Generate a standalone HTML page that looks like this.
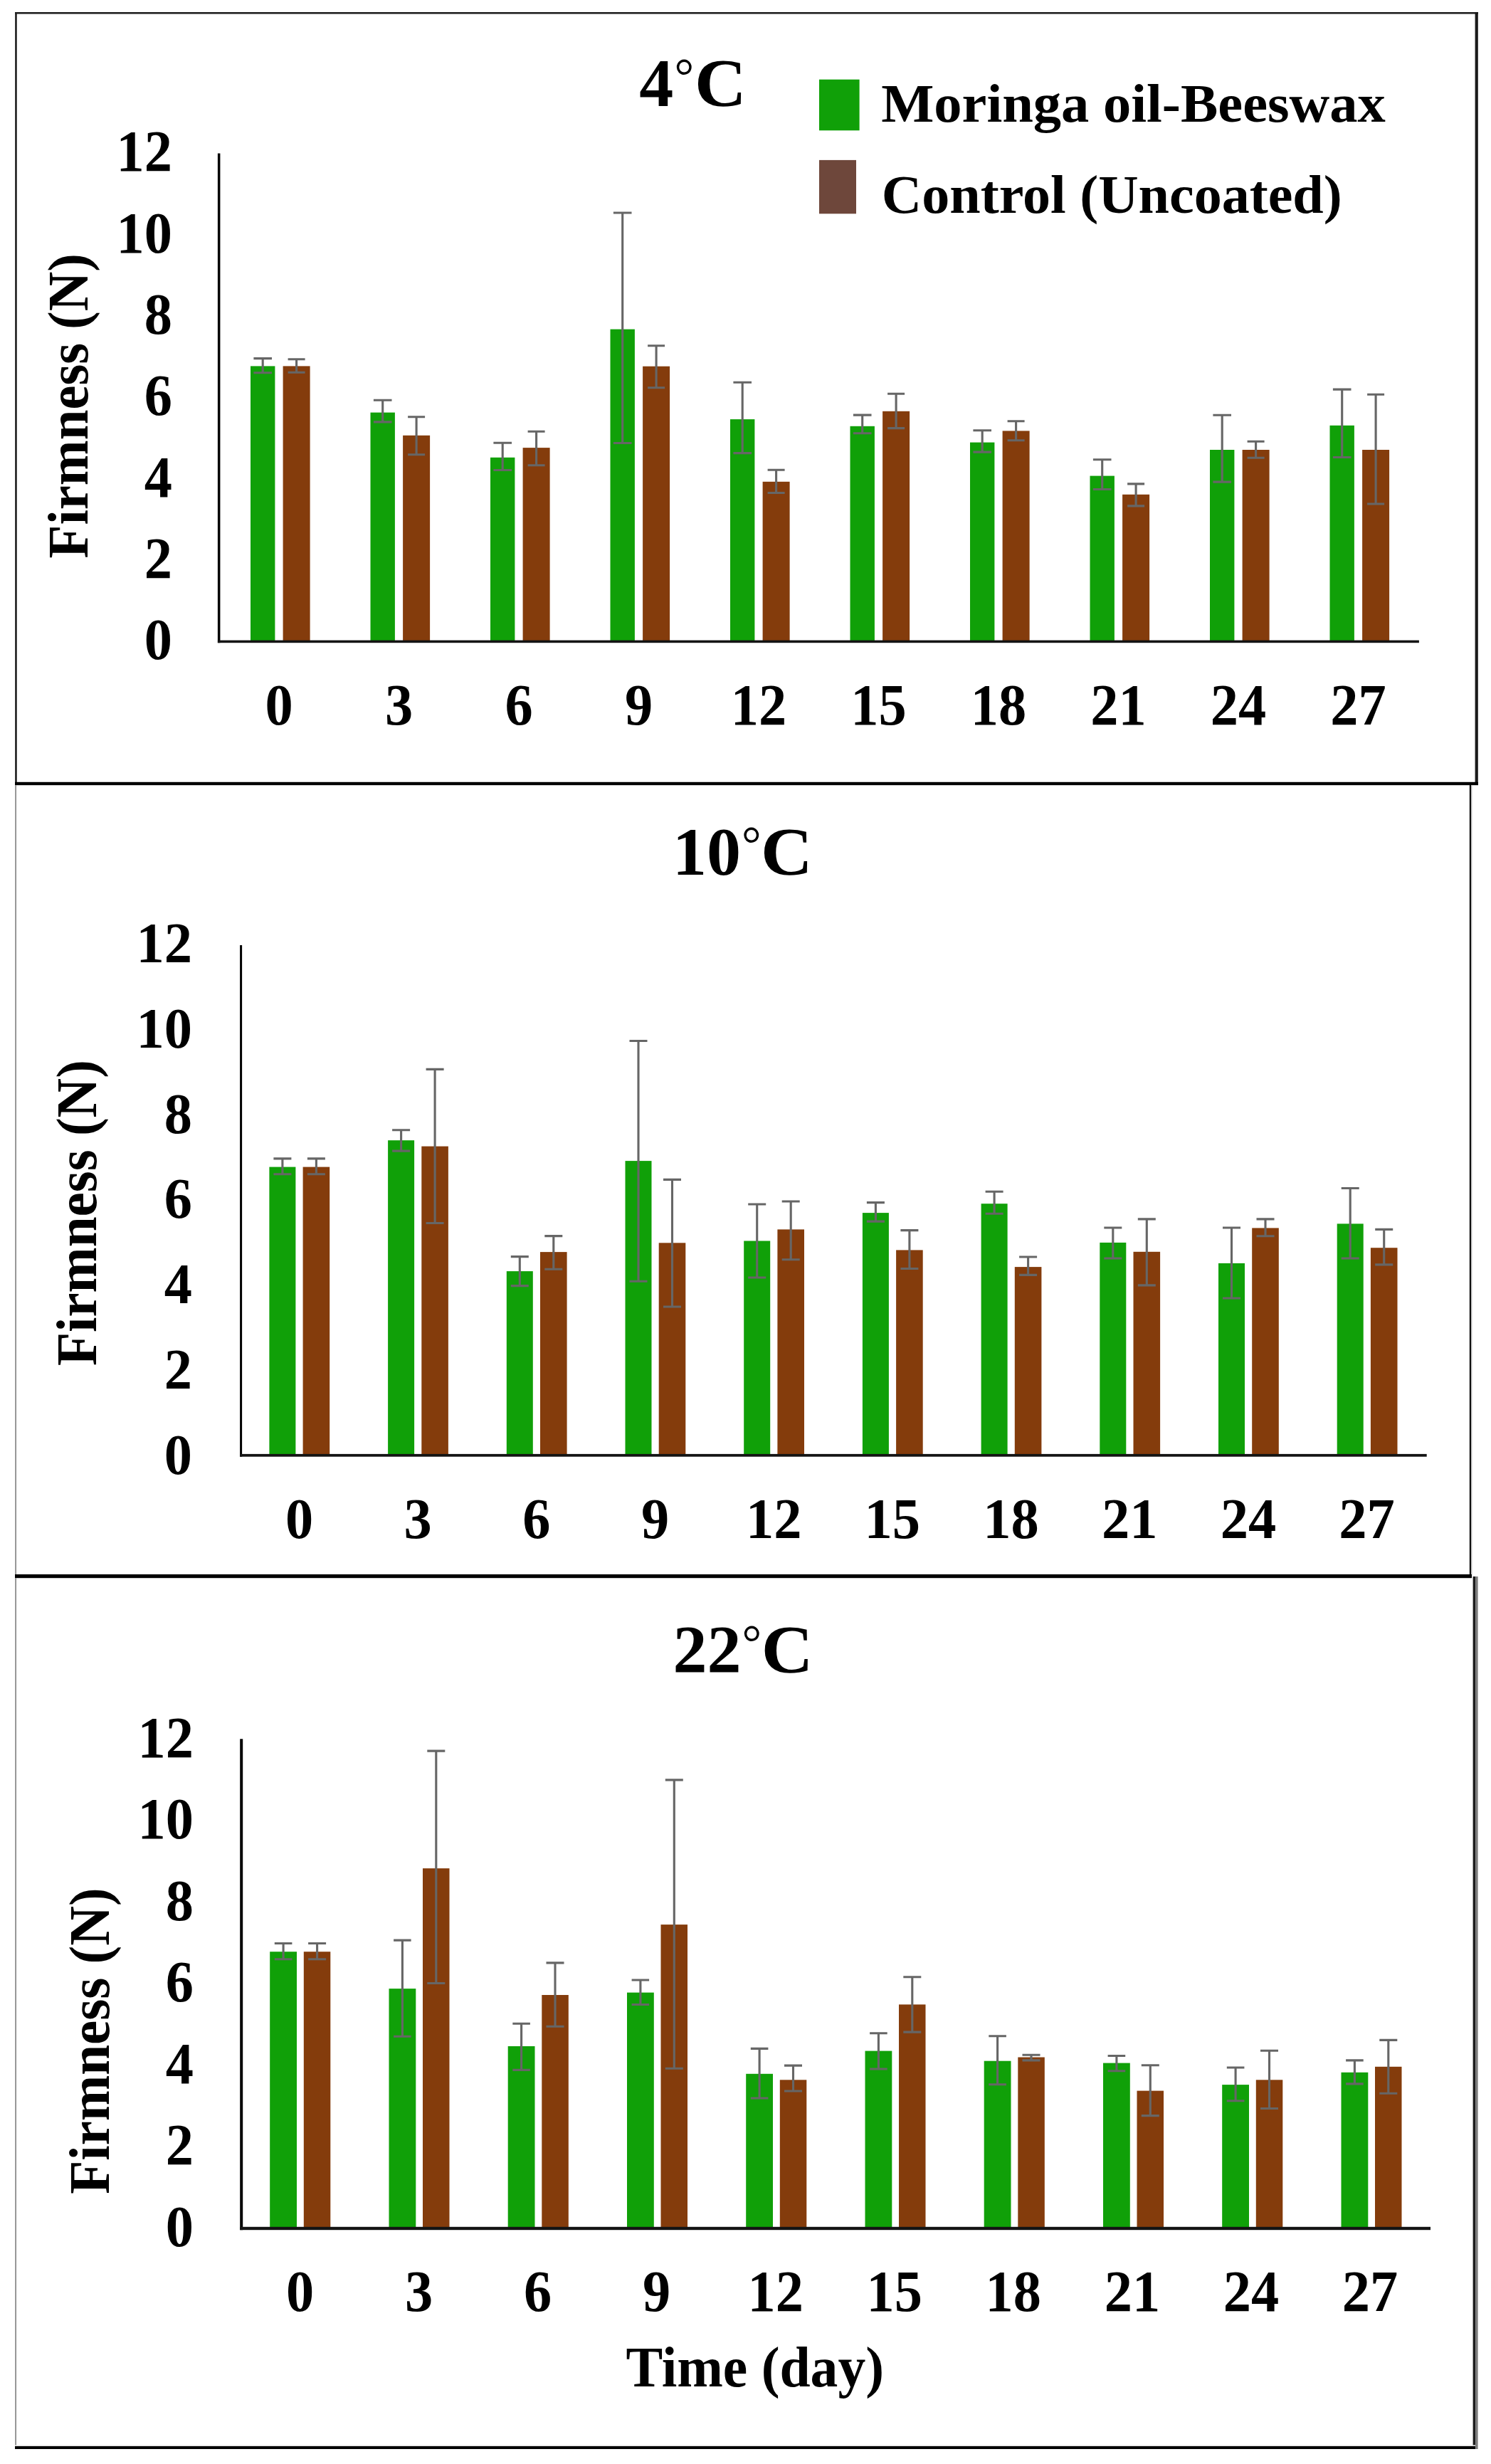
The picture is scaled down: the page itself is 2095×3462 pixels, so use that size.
<!DOCTYPE html>
<html lang="en">
<head>
<meta charset="utf-8">
<title>Firmness of coated and uncoated fruit during storage at 4, 10 and 22 °C</title>
<style>
html,body{margin:0;padding:0;background:#fff;}
body{width:2095px;height:3462px;overflow:hidden;}
svg{display:block;}
svg text{font-family:"Liberation Serif","Times New Roman",Times,serif;font-weight:bold;fill:#000;}
</style>
</head>
<body>
<svg width="2095" height="3462" viewBox="0 0 2095 3462" role="img" aria-label="Firmness (N) versus time (day) for Moringa oil-Beeswax coated and uncoated control fruit at three temperatures">
<rect x="0" y="0" width="2095" height="3462" fill="#ffffff"/>
<rect x="21.2" y="17.0" width="2.5" height="1086.0" fill="#151515" />
<rect x="21.0" y="17.0" width="2056.0" height="2.6" fill="#222" />
<rect x="2072.6" y="17.0" width="4.2" height="1086.0" fill="#1a1a1a" />
<rect x="21.0" y="1098.8" width="2056.0" height="4.4" fill="#000" />
<rect x="21.2" y="1103.0" width="1.8" height="1110.0" fill="#8c8c8c" />
<rect x="2064.8" y="1103.0" width="2.4" height="1110.0" fill="#111" />
<rect x="2067.2" y="1103.0" width="1.2" height="1110.0" fill="#bbb" />
<rect x="21.0" y="2212.0" width="2047.0" height="5.2" fill="#000" />
<rect x="21.2" y="2217.0" width="1.8" height="1224.0" fill="#8c8c8c" />
<rect x="2069.6" y="2215.0" width="3.8" height="1226.0" fill="#1c1c1c" />
<rect x="2073.4" y="2215.0" width="3.2" height="1226.0" fill="#7a7a7a" />
<rect x="21.0" y="3435.4" width="2052.0" height="1.8" fill="#e4e4e4" />
<rect x="21.0" y="3437.0" width="2052.0" height="4.0" fill="#000" />
<g id="p1">
<rect x="352.0" y="514.4" width="34.4" height="387.0" fill="#10A008" />
<rect x="397.6" y="514.4" width="38.0" height="387.0" fill="#843C0C" />
<rect x="520.5" y="579.6" width="34.4" height="321.8" fill="#10A008" />
<rect x="566.1" y="611.8" width="38.0" height="289.6" fill="#843C0C" />
<rect x="689.0" y="642.8" width="34.4" height="258.6" fill="#10A008" />
<rect x="734.6" y="629.1" width="38.0" height="272.3" fill="#843C0C" />
<rect x="857.5" y="462.6" width="34.4" height="438.8" fill="#10A008" />
<rect x="903.1" y="514.7" width="38.0" height="386.7" fill="#843C0C" />
<rect x="1026.0" y="589.1" width="34.4" height="312.3" fill="#10A008" />
<rect x="1071.6" y="676.8" width="38.0" height="224.6" fill="#843C0C" />
<rect x="1194.5" y="598.8" width="34.4" height="302.6" fill="#10A008" />
<rect x="1240.1" y="577.8" width="38.0" height="323.6" fill="#843C0C" />
<rect x="1363.0" y="621.6" width="34.4" height="279.8" fill="#10A008" />
<rect x="1408.6" y="605.4" width="38.0" height="296.0" fill="#843C0C" />
<rect x="1531.5" y="668.6" width="34.4" height="232.8" fill="#10A008" />
<rect x="1577.1" y="694.8" width="38.0" height="206.6" fill="#843C0C" />
<rect x="1700.0" y="632.0" width="34.4" height="269.4" fill="#10A008" />
<rect x="1745.6" y="632.0" width="38.0" height="269.4" fill="#843C0C" />
<rect x="1868.5" y="597.8" width="34.4" height="303.6" fill="#10A008" />
<rect x="1914.1" y="632.0" width="38.0" height="269.4" fill="#843C0C" />
<rect x="305.9" y="215.5" width="3.5" height="687.7" fill="#000" />
<rect x="305.9" y="899.6" width="1688.0" height="3.6" fill="#141414" />
<g stroke="#666666" stroke-width="3.1" fill="none">
<path d="M356.4 503.6H382.0M356.4 523.7H382.0M369.2 503.6V523.7"/>
<path d="M404.6 504.8H428.6M404.6 523.3H428.6M416.6 504.8V523.3"/>
<path d="M524.9 562.3H550.5M524.9 592.9H550.5M537.7 562.3V592.9"/>
<path d="M573.1 585.7H597.1M573.1 638.8H597.1M585.1 585.7V638.8"/>
<path d="M693.4 622.3H719.0M693.4 660.5H719.0M706.2 622.3V660.5"/>
<path d="M741.6 606.2H765.6M741.6 653.7H765.6M753.6 606.2V653.7"/>
<path d="M861.9 299.0H887.5M861.9 622.5H887.5M874.7 299.0V622.5"/>
<path d="M910.1 485.7H934.1M910.1 544.8H934.1M922.1 485.7V544.8"/>
<path d="M1030.4 537.2H1056.0M1030.4 636.6H1056.0M1043.2 537.2V636.6"/>
<path d="M1078.6 660.3H1102.6M1078.6 692.5H1102.6M1090.6 660.3V692.5"/>
<path d="M1198.9 583.1H1224.5M1198.9 608.8H1224.5M1211.7 583.1V608.8"/>
<path d="M1247.1 553.3H1271.1M1247.1 601.6H1271.1M1259.1 553.3V601.6"/>
<path d="M1367.4 604.7H1393.0M1367.4 635.1H1393.0M1380.2 604.7V635.1"/>
<path d="M1415.6 591.8H1439.6M1415.6 618.7H1439.6M1427.6 591.8V618.7"/>
<path d="M1535.9 645.7H1561.5M1535.9 687.5H1561.5M1548.7 645.7V687.5"/>
<path d="M1584.1 679.9H1608.1M1584.1 710.9H1608.1M1596.1 679.9V710.9"/>
<path d="M1704.4 583.3H1730.0M1704.4 677.1H1730.0M1717.2 583.3V677.1"/>
<path d="M1752.6 620.3H1776.6M1752.6 643.3H1776.6M1764.6 620.3V643.3"/>
<path d="M1872.9 547.1H1898.5M1872.9 642.5H1898.5M1885.7 547.1V642.5"/>
<path d="M1921.1 554.3H1945.1M1921.1 708.0H1945.1M1933.1 554.3V708.0"/>
</g>
<text x="242.0" y="926.3" font-size="83" text-anchor="end" textLength="39.2" lengthAdjust="spacingAndGlyphs">0</text>
<text x="242.0" y="812.0" font-size="83" text-anchor="end" textLength="39.2" lengthAdjust="spacingAndGlyphs">2</text>
<text x="242.0" y="697.6" font-size="83" text-anchor="end" textLength="39.2" lengthAdjust="spacingAndGlyphs">4</text>
<text x="242.0" y="583.3" font-size="83" text-anchor="end" textLength="39.2" lengthAdjust="spacingAndGlyphs">6</text>
<text x="242.0" y="468.9" font-size="83" text-anchor="end" textLength="39.2" lengthAdjust="spacingAndGlyphs">8</text>
<text x="242.0" y="354.6" font-size="83" text-anchor="end" textLength="78.4" lengthAdjust="spacingAndGlyphs">10</text>
<text x="242.0" y="240.3" font-size="83" text-anchor="end" textLength="78.4" lengthAdjust="spacingAndGlyphs">12</text>
<text x="392.0" y="1017.6" font-size="83" text-anchor="middle" textLength="39.2" lengthAdjust="spacingAndGlyphs">0</text>
<text x="560.5" y="1017.6" font-size="83" text-anchor="middle" textLength="39.2" lengthAdjust="spacingAndGlyphs">3</text>
<text x="729.0" y="1017.6" font-size="83" text-anchor="middle" textLength="39.2" lengthAdjust="spacingAndGlyphs">6</text>
<text x="897.5" y="1017.6" font-size="83" text-anchor="middle" textLength="39.2" lengthAdjust="spacingAndGlyphs">9</text>
<text x="1066.0" y="1017.6" font-size="83" text-anchor="middle" textLength="78.4" lengthAdjust="spacingAndGlyphs">12</text>
<text x="1234.5" y="1017.6" font-size="83" text-anchor="middle" textLength="78.4" lengthAdjust="spacingAndGlyphs">15</text>
<text x="1403.0" y="1017.6" font-size="83" text-anchor="middle" textLength="78.4" lengthAdjust="spacingAndGlyphs">18</text>
<text x="1571.5" y="1017.6" font-size="83" text-anchor="middle" textLength="78.4" lengthAdjust="spacingAndGlyphs">21</text>
<text x="1740.0" y="1017.6" font-size="83" text-anchor="middle" textLength="78.4" lengthAdjust="spacingAndGlyphs">24</text>
<text x="1908.5" y="1017.6" font-size="83" text-anchor="middle" textLength="78.4" lengthAdjust="spacingAndGlyphs">27</text>
<text transform="translate(122.8 784.4) rotate(-90)" font-size="80" textLength="428.2" lengthAdjust="spacingAndGlyphs">Firmness (N)</text>
<text font-size="96"><tspan x="898.2" y="148.9">4</tspan><tspan x="947.5" y="129.9" font-size="69" font-weight="normal">°</tspan><tspan x="975.9" y="148.9" textLength="72.8" lengthAdjust="spacingAndGlyphs">C</tspan></text>
</g>
<g id="p2">
<rect x="378.4" y="1639.6" width="37.0" height="405.2" fill="#10A008" />
<rect x="425.6" y="1639.6" width="37.6" height="405.2" fill="#843C0C" />
<rect x="545.1" y="1602.2" width="37.0" height="442.6" fill="#10A008" />
<rect x="592.3" y="1610.6" width="37.6" height="434.2" fill="#843C0C" />
<rect x="711.8" y="1786.1" width="37.0" height="258.7" fill="#10A008" />
<rect x="759.0" y="1759.1" width="37.6" height="285.7" fill="#843C0C" />
<rect x="878.5" y="1631.1" width="37.0" height="413.7" fill="#10A008" />
<rect x="925.7" y="1746.3" width="37.6" height="298.5" fill="#843C0C" />
<rect x="1045.2" y="1743.5" width="37.0" height="301.3" fill="#10A008" />
<rect x="1092.4" y="1727.4" width="37.6" height="317.4" fill="#843C0C" />
<rect x="1211.9" y="1704.1" width="37.0" height="340.7" fill="#10A008" />
<rect x="1259.1" y="1756.4" width="37.6" height="288.4" fill="#843C0C" />
<rect x="1378.6" y="1691.2" width="37.0" height="353.6" fill="#10A008" />
<rect x="1425.8" y="1780.1" width="37.6" height="264.7" fill="#843C0C" />
<rect x="1545.3" y="1745.9" width="37.0" height="298.9" fill="#10A008" />
<rect x="1592.5" y="1758.8" width="37.6" height="286.0" fill="#843C0C" />
<rect x="1712.0" y="1774.9" width="37.0" height="269.9" fill="#10A008" />
<rect x="1759.2" y="1725.4" width="37.6" height="319.4" fill="#843C0C" />
<rect x="1878.7" y="1719.4" width="37.0" height="325.4" fill="#10A008" />
<rect x="1925.9" y="1753.2" width="37.6" height="291.6" fill="#843C0C" />
<rect x="337.1" y="1328.0" width="3.0" height="718.7" fill="#000" />
<rect x="337.1" y="2042.9" width="1667.6" height="3.8" fill="#141414" />
<g stroke="#666666" stroke-width="3.1" fill="none">
<path d="M384.4 1627.9H409.4M384.4 1649.7H409.4M396.9 1627.9V1649.7"/>
<path d="M431.9 1627.9H456.9M431.9 1649.7H456.9M444.4 1627.9V1649.7"/>
<path d="M551.1 1587.7H576.1M551.1 1617.1H576.1M563.6 1587.7V1617.1"/>
<path d="M598.6 1502.4H623.6M598.6 1718.5H623.6M611.1 1502.4V1718.5"/>
<path d="M717.8 1765.6H742.8M717.8 1806.6H742.8M730.3 1765.6V1806.6"/>
<path d="M765.3 1736.6H790.3M765.3 1783.3H790.3M777.8 1736.6V1783.3"/>
<path d="M884.5 1462.5H909.5M884.5 1800.2H909.5M897.0 1462.5V1800.2"/>
<path d="M932.0 1657.4H957.0M932.0 1836.0H957.0M944.5 1657.4V1836.0"/>
<path d="M1051.2 1692.0H1076.2M1051.2 1795.0H1076.2M1063.7 1692.0V1795.0"/>
<path d="M1098.7 1688.0H1123.7M1098.7 1769.7H1123.7M1111.2 1688.0V1769.7"/>
<path d="M1217.9 1689.6H1242.9M1217.9 1716.1H1242.9M1230.4 1689.6V1716.1"/>
<path d="M1265.4 1728.6H1290.4M1265.4 1782.5H1290.4M1277.9 1728.6V1782.5"/>
<path d="M1384.6 1674.3H1409.6M1384.6 1705.3H1409.6M1397.1 1674.3V1705.3"/>
<path d="M1432.1 1766.0H1457.1M1432.1 1791.4H1457.1M1444.6 1766.0V1791.4"/>
<path d="M1551.3 1725.0H1576.3M1551.3 1768.0H1576.3M1563.8 1725.0V1768.0"/>
<path d="M1598.8 1712.9H1623.8M1598.8 1805.9H1623.8M1611.3 1712.9V1805.9"/>
<path d="M1718.0 1725.0H1743.0M1718.0 1824.0H1743.0M1730.5 1725.0V1824.0"/>
<path d="M1765.5 1712.9H1790.5M1765.5 1736.7H1790.5M1778.0 1712.9V1736.7"/>
<path d="M1884.7 1669.5H1909.7M1884.7 1768.0H1909.7M1897.2 1669.5V1768.0"/>
<path d="M1932.2 1727.4H1957.2M1932.2 1776.9H1957.2M1944.7 1727.4V1776.9"/>
</g>
<text x="270.0" y="2070.6" font-size="80.5" text-anchor="end" textLength="39.2" lengthAdjust="spacingAndGlyphs">0</text>
<text x="270.0" y="1950.9" font-size="80.5" text-anchor="end" textLength="39.2" lengthAdjust="spacingAndGlyphs">2</text>
<text x="270.0" y="1831.1" font-size="80.5" text-anchor="end" textLength="39.2" lengthAdjust="spacingAndGlyphs">4</text>
<text x="270.0" y="1711.4" font-size="80.5" text-anchor="end" textLength="39.2" lengthAdjust="spacingAndGlyphs">6</text>
<text x="270.0" y="1591.6" font-size="80.5" text-anchor="end" textLength="39.2" lengthAdjust="spacingAndGlyphs">8</text>
<text x="270.0" y="1471.9" font-size="80.5" text-anchor="end" textLength="78.5" lengthAdjust="spacingAndGlyphs">10</text>
<text x="270.0" y="1352.2" font-size="80.5" text-anchor="end" textLength="78.5" lengthAdjust="spacingAndGlyphs">12</text>
<text x="420.5" y="2160.8" font-size="80.5" text-anchor="middle" textLength="39.2" lengthAdjust="spacingAndGlyphs">0</text>
<text x="587.2" y="2160.8" font-size="80.5" text-anchor="middle" textLength="39.2" lengthAdjust="spacingAndGlyphs">3</text>
<text x="753.8" y="2160.8" font-size="80.5" text-anchor="middle" textLength="39.2" lengthAdjust="spacingAndGlyphs">6</text>
<text x="920.5" y="2160.8" font-size="80.5" text-anchor="middle" textLength="39.2" lengthAdjust="spacingAndGlyphs">9</text>
<text x="1087.2" y="2160.8" font-size="80.5" text-anchor="middle" textLength="78.5" lengthAdjust="spacingAndGlyphs">12</text>
<text x="1253.8" y="2160.8" font-size="80.5" text-anchor="middle" textLength="78.5" lengthAdjust="spacingAndGlyphs">15</text>
<text x="1420.5" y="2160.8" font-size="80.5" text-anchor="middle" textLength="78.5" lengthAdjust="spacingAndGlyphs">18</text>
<text x="1587.2" y="2160.8" font-size="80.5" text-anchor="middle" textLength="78.5" lengthAdjust="spacingAndGlyphs">21</text>
<text x="1753.9" y="2160.8" font-size="80.5" text-anchor="middle" textLength="78.5" lengthAdjust="spacingAndGlyphs">24</text>
<text x="1920.5" y="2160.8" font-size="80.5" text-anchor="middle" textLength="78.5" lengthAdjust="spacingAndGlyphs">27</text>
<text transform="translate(135.3 1919.0) rotate(-90)" font-size="80" textLength="429.8" lengthAdjust="spacingAndGlyphs">Firmness (N)</text>
<text font-size="96"><tspan x="945.0" y="1228.6">10</tspan><tspan x="1041.9" y="1209.4" font-size="69" font-weight="normal">°</tspan><tspan x="1069.0" y="1228.6" textLength="72.8" lengthAdjust="spacingAndGlyphs">C</tspan></text>
</g>
<g id="p3">
<rect x="379.2" y="2742.2" width="37.8" height="388.8" fill="#10A008" />
<rect x="426.8" y="2742.2" width="37.5" height="388.8" fill="#843C0C" />
<rect x="546.5" y="2794.1" width="37.8" height="336.9" fill="#10A008" />
<rect x="594.0" y="2625.1" width="37.5" height="505.9" fill="#843C0C" />
<rect x="713.7" y="2875.0" width="37.8" height="256.0" fill="#10A008" />
<rect x="761.3" y="2803.0" width="37.5" height="328.0" fill="#843C0C" />
<rect x="881.0" y="2799.6" width="37.8" height="331.4" fill="#10A008" />
<rect x="928.5" y="2704.1" width="37.5" height="426.9" fill="#843C0C" />
<rect x="1048.2" y="2913.8" width="37.8" height="217.2" fill="#10A008" />
<rect x="1095.8" y="2922.3" width="37.5" height="208.7" fill="#843C0C" />
<rect x="1215.5" y="2881.6" width="37.8" height="249.4" fill="#10A008" />
<rect x="1263.0" y="2816.4" width="37.5" height="314.6" fill="#843C0C" />
<rect x="1382.7" y="2895.7" width="37.8" height="235.3" fill="#10A008" />
<rect x="1430.3" y="2890.5" width="37.5" height="240.5" fill="#843C0C" />
<rect x="1550.0" y="2898.6" width="37.8" height="232.4" fill="#10A008" />
<rect x="1597.5" y="2937.6" width="37.5" height="193.4" fill="#843C0C" />
<rect x="1717.2" y="2929.1" width="37.8" height="201.9" fill="#10A008" />
<rect x="1764.8" y="2922.3" width="37.5" height="208.7" fill="#843C0C" />
<rect x="1884.5" y="2911.8" width="37.8" height="219.2" fill="#10A008" />
<rect x="1932.0" y="2903.8" width="37.5" height="227.2" fill="#843C0C" />
<rect x="337.2" y="2443.3" width="4.0" height="689.9" fill="#000" />
<rect x="337.2" y="3128.8" width="1672.8" height="4.4" fill="#141414" />
<g stroke="#666666" stroke-width="3.1" fill="none">
<path d="M385.8 2730.5H410.4M385.8 2752.7H410.4M398.1 2730.5V2752.7"/>
<path d="M433.1 2730.5H458.1M433.1 2752.7H458.1M445.6 2730.5V2752.7"/>
<path d="M553.1 2726.1H577.6M553.1 2861.3H577.6M565.4 2726.1V2861.3"/>
<path d="M600.3 2460.1H625.3M600.3 2786.5H625.3M612.8 2460.1V2786.5"/>
<path d="M720.3 2843.2H744.9M720.3 2908.4H744.9M732.6 2843.2V2908.4"/>
<path d="M767.5 2757.9H792.5M767.5 2847.2H792.5M780.0 2757.9V2847.2"/>
<path d="M887.6 2782.0H912.1M887.6 2816.5H912.1M899.9 2782.0V2816.5"/>
<path d="M934.8 2500.9H959.8M934.8 2906.2H959.8M947.3 2500.9V2906.2"/>
<path d="M1054.8 2878.4H1079.4M1054.8 2948.0H1079.4M1067.1 2878.4V2948.0"/>
<path d="M1102.0 2902.1H1127.0M1102.0 2938.0H1127.0M1114.5 2902.1V2938.0"/>
<path d="M1222.1 2856.7H1246.7M1222.1 2907.0H1246.7M1234.4 2856.7V2907.0"/>
<path d="M1269.3 2777.8H1294.3M1269.3 2855.1H1294.3M1281.8 2777.8V2855.1"/>
<path d="M1389.3 2860.7H1413.9M1389.3 2928.7H1413.9M1401.6 2860.7V2928.7"/>
<path d="M1436.5 2887.2H1461.5M1436.5 2894.9H1461.5M1449.0 2887.2V2894.9"/>
<path d="M1556.6 2888.5H1581.2M1556.6 2909.8H1581.2M1568.9 2888.5V2909.8"/>
<path d="M1603.8 2901.8H1628.8M1603.8 2972.6H1628.8M1616.3 2901.8V2972.6"/>
<path d="M1723.8 2905.0H1748.4M1723.8 2951.7H1748.4M1736.1 2905.0V2951.7"/>
<path d="M1771.0 2881.2H1796.0M1771.0 2962.5H1796.0M1783.5 2881.2V2962.5"/>
<path d="M1891.1 2894.9H1915.7M1891.1 2927.9H1915.7M1903.4 2894.9V2927.9"/>
<path d="M1938.3 2866.4H1963.3M1938.3 2941.2H1963.3M1950.8 2866.4V2941.2"/>
</g>
<text x="272.0" y="3155.7" font-size="83" text-anchor="end" textLength="39.2" lengthAdjust="spacingAndGlyphs">0</text>
<text x="272.0" y="3041.2" font-size="83" text-anchor="end" textLength="39.2" lengthAdjust="spacingAndGlyphs">2</text>
<text x="272.0" y="2926.6" font-size="83" text-anchor="end" textLength="39.2" lengthAdjust="spacingAndGlyphs">4</text>
<text x="272.0" y="2812.1" font-size="83" text-anchor="end" textLength="39.2" lengthAdjust="spacingAndGlyphs">6</text>
<text x="272.0" y="2697.5" font-size="83" text-anchor="end" textLength="39.2" lengthAdjust="spacingAndGlyphs">8</text>
<text x="272.0" y="2583.0" font-size="83" text-anchor="end" textLength="78.4" lengthAdjust="spacingAndGlyphs">10</text>
<text x="272.0" y="2468.5" font-size="83" text-anchor="end" textLength="78.4" lengthAdjust="spacingAndGlyphs">12</text>
<text x="421.5" y="3246.8" font-size="83" text-anchor="middle" textLength="39.2" lengthAdjust="spacingAndGlyphs">0</text>
<text x="588.5" y="3246.8" font-size="83" text-anchor="middle" textLength="39.2" lengthAdjust="spacingAndGlyphs">3</text>
<text x="755.6" y="3246.8" font-size="83" text-anchor="middle" textLength="39.2" lengthAdjust="spacingAndGlyphs">6</text>
<text x="922.7" y="3246.8" font-size="83" text-anchor="middle" textLength="39.2" lengthAdjust="spacingAndGlyphs">9</text>
<text x="1089.7" y="3246.8" font-size="83" text-anchor="middle" textLength="78.4" lengthAdjust="spacingAndGlyphs">12</text>
<text x="1256.8" y="3246.8" font-size="83" text-anchor="middle" textLength="78.4" lengthAdjust="spacingAndGlyphs">15</text>
<text x="1423.8" y="3246.8" font-size="83" text-anchor="middle" textLength="78.4" lengthAdjust="spacingAndGlyphs">18</text>
<text x="1590.9" y="3246.8" font-size="83" text-anchor="middle" textLength="78.4" lengthAdjust="spacingAndGlyphs">21</text>
<text x="1757.9" y="3246.8" font-size="83" text-anchor="middle" textLength="78.4" lengthAdjust="spacingAndGlyphs">24</text>
<text x="1925.0" y="3246.8" font-size="83" text-anchor="middle" textLength="78.4" lengthAdjust="spacingAndGlyphs">27</text>
<text transform="translate(152.9 3082.8) rotate(-90)" font-size="80" textLength="430.4" lengthAdjust="spacingAndGlyphs">Firmness (N)</text>
<text font-size="96"><tspan x="945.5" y="2350.4">22</tspan><tspan x="1042.4" y="2331.3" font-size="69" font-weight="normal">°</tspan><tspan x="1069.8" y="2350.4" textLength="72.8" lengthAdjust="spacingAndGlyphs">C</tspan></text>
</g>
<rect x="1151.0" y="111.7" width="56.6" height="71.6" fill="#10A008" />
<rect x="1151.0" y="224.9" width="52.0" height="75.4" fill="#6E473B" />
<text x="1238.2" y="171.3" font-size="76" text-anchor="start" textLength="708.6" lengthAdjust="spacingAndGlyphs">Moringa oil-Beeswax</text>
<text x="1238.8" y="299.2" font-size="76" text-anchor="start" textLength="647.0" lengthAdjust="spacingAndGlyphs">Control (Uncoated)</text>
<text x="879.4" y="3352.6" font-size="80" text-anchor="start" textLength="362.6" lengthAdjust="spacingAndGlyphs">Time (day)</text>
</svg>
</body>
</html>
